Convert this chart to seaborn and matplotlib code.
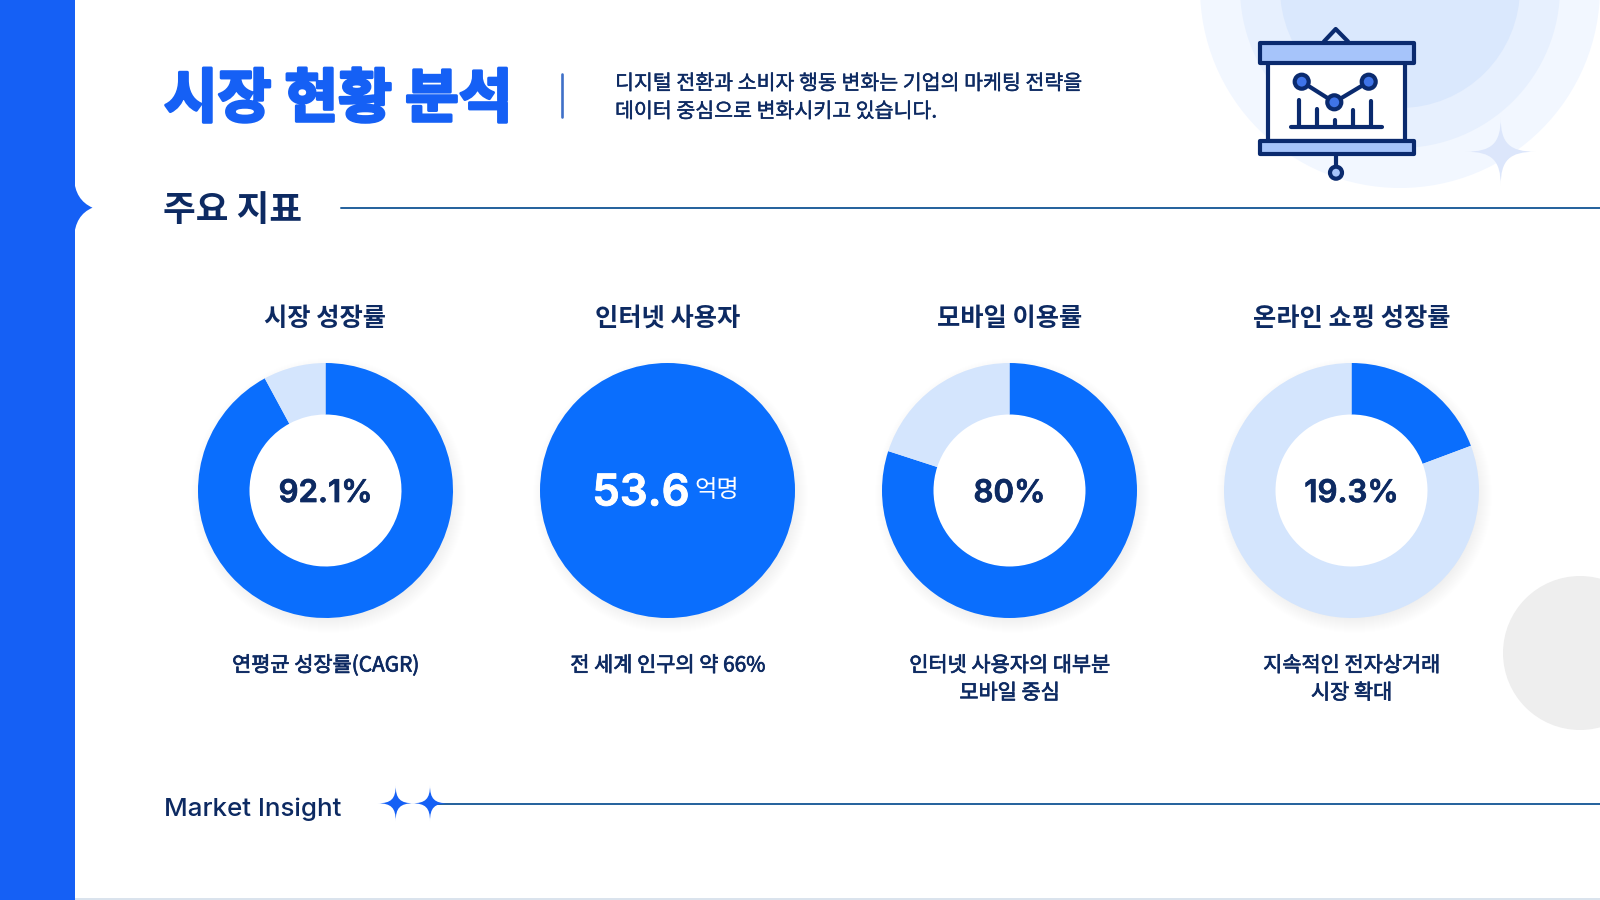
import matplotlib
matplotlib.use("Agg")
import matplotlib.pyplot as plt
import matplotlib.patheffects as pe
from matplotlib.patches import Circle, PathPatch, Polygon, Rectangle
from matplotlib.path import Path
import seaborn as sns

# Chart values
metric_titles = ["시장 성장률", "인터넷 사용자", "모바일 이용률", "온라인 쇼핑 성장률"]
metric_shares = [92.1, 100.0, 80.0, 19.3]
metric_labels = ["92.1%", "53.6", "80%", "19.3%"]
metric_notes = ["연평균 성장률(CAGR)", "전 세계 인구의 약 66%", "인터넷 사용자의 대부분\n모바일 중심", "지속적인 전자상거래\n시장 확대"]

title_text = "시장 현황 분석"
subtitle_lines = ["디지털 전환과 소비자 행동 변화는 기업의 마케팅 전략을", "데이터 중심으로 변화시키고 있습니다."]
section_text = "주요 지표"
footer_text = "Market Insight"
unit_text = "억명"

# Colors
SIDE_BLUE = "#1560F5"
RING_BLUE = "#0A6EFD"
RING_LIGHT = "#D4E5FD"
NAVY = "#0D2A62"
LINE_BLUE = "#23609C"
ICON_DARK = "#0A2A6E"
ICON_FILL = "#A6C4FA"
ICON_DOT = "#3F74E8"

KR = ["Noto Sans CJK KR", "DejaVu Sans"]
LATIN = ["Inter", "DejaVu Sans"]

W, H = 1600, 900
centers_x = [325.5, 667.5, 1009.5, 1351.5]
center_y = 490.5
OUTER = 127.5
INNER = 76

sns.set_theme(style="white")
plt.rcParams["font.family"] = KR

fig = plt.figure(figsize=(16, 9), dpi=100, facecolor="white")


# Function to make a full figure axes in pixel units
def pixel_axes(zorder):
    ax = fig.add_axes([0, 0, 1, 1], zorder=zorder)
    ax.set_xlim(0, W)
    ax.set_ylim(H, 0)
    ax.axis("off")
    ax.patch.set_alpha(0)
    return ax


# Function to thicken a text a little, the installed weights are too light
def thick(color, width):
    return [pe.withStroke(linewidth=width, foreground=color)]


# Function to draw a four point sparkle
def sparkle(ax, x, y, rx, ry, color, zorder=3):
    k = 0.25
    tips = [(0, -1), (1, 0), (0, 1), (-1, 0)]
    verts = [(x, y - ry)]
    codes = [Path.MOVETO]
    for (ax0, ay0), (ax1, ay1) in zip(tips, tips[1:] + tips[:1]):
        verts += [(x + k * ax0 * rx, y + k * ay0 * ry), (x + k * ax1 * rx, y + k * ay1 * ry),
                  (x + ax1 * rx, y + ay1 * ry)]
        codes += [Path.CURVE4] * 3
    ax.add_patch(PathPatch(Path(verts, codes), fc=color, ec="none", zorder=zorder))


# Function to draw the presentation board icon
def draw_icon(ax):
    lw = 3.0
    kw = dict(ec=ICON_DARK, lw=lw, joinstyle="round", zorder=4)
    ax.add_patch(Rectangle((1267.5, 62), 137.5, 79, fc="white", **kw))
    ax.add_patch(Polygon([(1323.5, 42), (1335.7, 29), (1348.5, 42)], closed=False, fill=False, **kw))
    ax.add_patch(Rectangle((1259.5, 42.5), 154, 20, fc=ICON_FILL, **kw))
    ax.add_patch(Rectangle((1259.5, 141), 154, 13, fc=ICON_FILL, **kw))
    ax.plot([1336, 1336], [154, 166], color=ICON_DARK, lw=lw, zorder=4)
    ax.add_patch(Circle((1336, 172.7), 6, fc=ICON_FILL, **kw))
    ax.plot([1301.7, 1334.3, 1368.7], [81.7, 102.3, 81.7], color=ICON_DARK, lw=lw, zorder=4)
    for bx, by in zip([1298.5, 1316.7, 1335, 1352.7, 1371], [100, 108.5, 120, 109.5, 100.7]):
        ax.plot([bx, bx], [by, 126.7], color=ICON_DARK, lw=lw, solid_capstyle="round", zorder=4)
    ax.plot([1291, 1382], [126.7, 126.7], color=ICON_DARK, lw=lw, solid_capstyle="round", zorder=4)
    for px, py in [(1301.7, 81.7), (1334.3, 102.3), (1368.7, 81.7)]:
        ax.add_patch(Circle((px, py), 7, fc=ICON_DOT, **kw))


back = pixel_axes(0)
front = pixel_axes(3)

# Background decoration
for r, c in zip([200, 160, 120], ["#F2F7FF", "#E7F0FE", "#DAE8FD"]):
    back.add_patch(Circle((1400, -12), r, fc=c, ec="none", zorder=1))
back.add_patch(Circle((1580, 653), 77, fc="#EEEEEE", ec="none", zorder=1))
sparkle(back, 1500.7, 151.7, 35, 34, "#DCE6FB", zorder=2)

# Sidebar with the notch
back.add_patch(Rectangle((0, 0), 74.5, H, fc=SIDE_BLUE, ec="none", zorder=5))
notch = [(74, 178), (75, 200), (92.5, 207.7), (75, 215), (74, 238), (74, 178)]
notch_codes = [Path.MOVETO, Path.CURVE3, Path.CURVE3, Path.CURVE3, Path.CURVE3, Path.CLOSEPOLY]
back.add_patch(PathPatch(Path(notch, notch_codes), fc=SIDE_BLUE, ec="none", zorder=5))

# Rules
back.plot([341, W], [207.7, 207.7], color=LINE_BLUE, lw=1.4, zorder=2)
back.plot([425, W], [803.5, 803.5], color=LINE_BLUE, lw=1.4, zorder=2)
back.plot([562, 562], [74, 117], color="#3F70C8", lw=1.9, zorder=2)
back.plot([74.5, W], [899, 899], color="#D3DEEA", lw=1.2, zorder=2)
sparkle(back, 395.7, 803.3, 18, 18, SIDE_BLUE)
sparkle(back, 430, 803.3, 18, 18, SIDE_BLUE)

draw_icon(back)

# Donuts
for cx, share in zip(centers_x, metric_shares):
    # soft shadow under each ring
    for step in range(16):
        back.add_patch(Circle((cx + 3, center_y + 5), OUTER + 10 - step, fc="#3A4A66", ec="none",
                              alpha=0.005, zorder=2))
    back.add_patch(Circle((cx, center_y), INNER + 2, fc="white", ec="none", zorder=3))
    pad = 135
    ax = fig.add_axes([(cx - pad) / W, 1 - (center_y + pad) / H, 2 * pad / W, 2 * pad / H], zorder=1)
    ax.pie([share, 100 - share], colors=[RING_BLUE, RING_LIGHT], startangle=90, counterclock=False,
           radius=OUTER, wedgeprops=dict(width=OUTER if share == 100 else OUTER - INNER, linewidth=0))
    ax.set_xlim(-pad, pad)
    ax.set_ylim(-pad, pad)
    ax.patch.set_alpha(0)

# Header texts
front.text(164, 100, title_text, family=KR, weight="black", fontsize=42, color=SIDE_BLUE, ha="left", va="center",
           path_effects=thick(SIDE_BLUE, 2.2))
for y, line in zip([83.5, 111.5], subtitle_lines):
    front.text(615, y, line, family=KR, weight="medium", fontsize=14.8, color=NAVY, ha="left", va="center",
               path_effects=thick(NAVY, 0.3))
front.text(163, 211, section_text, family=KR, weight="bold", fontsize=25.6, color=NAVY, ha="left", va="center")
front.text(164, 809, footer_text, family=LATIN, weight="medium", fontsize=18.7, color=NAVY, ha="left", va="center")

# Metric texts
for cx, t, lab, note in zip(centers_x, metric_titles, metric_labels, metric_notes):
    front.text(cx, 318, t, family=KR, weight="bold", fontsize=18.2, color=NAVY, ha="center", va="center")
    for i, line in enumerate(note.split("\n")):
        front.text(cx, 665.5 + 27.5 * i, line, family=KR, weight="medium", fontsize=15, color=NAVY,
                   ha="center", va="center", path_effects=thick(NAVY, 0.5))
    if lab == "53.6":
        front.text(641, 494, lab, family=LATIN, weight="semibold", fontsize=31.5, color="white", ha="center", va="center",
                   path_effects=thick("white", 0.6))
        front.text(717, 490, unit_text, family=KR, weight="normal", fontsize=17.5, color="white", ha="center", va="center")
    else:
        front.text(cx, 494, lab, family=LATIN, weight="semibold", fontsize=22.5, color=NAVY, ha="center", va="center",
                   path_effects=thick(NAVY, 0.5))

fig.savefig("out.png", dpi=100)
